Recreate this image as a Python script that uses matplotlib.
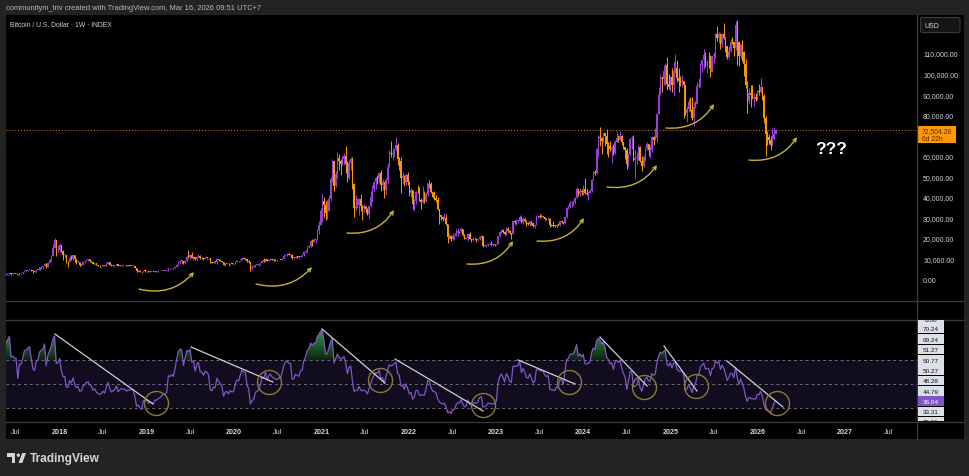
import numpy as np
import pandas as pd
import matplotlib
matplotlib.use("Agg")
import matplotlib.pyplot as plt
import matplotlib.dates as mdates
from matplotlib.patches import Rectangle, FancyBboxPatch, PathPatch, Polygon, Circle
from matplotlib.lines import Line2D
from matplotlib.path import Path
from matplotlib.transforms import Affine2D
from matplotlib.colors import LinearSegmentedColormap
from datetime import datetime

plt.rcParams['font.family'] = ['Liberation Sans', 'DejaVu Sans']

# ---------------- DATA (weekly BTC/USD, thousands of USD) ----------------
last_week = '2026-03-16'
first_open = 2.05
# weekly closes before the first visible candle (used only for RSI warm-up)
warmup_closes = [0.703, 0.750, 0.735, 0.766, 0.778, 0.790, 0.927, 1.020, 0.900, 0.820,
                 0.922, 0.915, 1.020, 1.000, 1.050, 1.150, 1.270, 1.230, 1.010, 0.960,
                 1.080, 1.190, 1.180, 1.250, 1.350, 1.550, 1.750, 2.050]

closes = [
    # 2017 (from May 22)
    2.19, 2.52, 2.95, 2.50, 2.55, 2.50, 2.50, 1.93, 2.75, 2.75, 3.23, 4.07, 4.08, 4.35, 4.60, 4.20,
    3.70, 3.60, 4.40, 4.60, 5.70, 5.98, 6.15, 7.40, 5.95, 8.00, 9.30, 11.30, 15.30, 19.10, 13.90, 14.20,
    # 2018
    16.5, 13.6, 11.6, 11.8, 8.2, 8.1, 10.4, 9.6, 11.5, 9.6, 8.2, 8.5, 6.8, 7.0, 8.3, 8.8, 9.4, 9.6,
    8.7, 8.5, 7.35, 7.7, 6.75, 6.45, 6.15, 6.35, 6.75, 6.35, 7.4, 8.2, 7.05, 6.3, 6.5, 6.7, 7.3, 6.25,
    6.5, 6.7, 6.6, 6.6, 6.3, 6.45, 6.4, 6.5, 6.4, 5.55, 4.0, 4.1, 3.6, 3.2, 4.0, 3.9, 4.05,
    # 2019
    3.5, 3.55, 3.55, 3.4, 3.65, 3.65, 3.75, 3.8, 3.92, 4.0, 4.0, 4.1, 5.2, 5.15, 5.3, 5.2, 5.8, 6.95,
    8.2, 8.75, 8.7, 7.65, 8.95, 10.9, 10.8, 11.5, 10.3, 10.55, 9.5, 10.8, 11.3, 10.2, 10.1, 9.75, 10.4,
    10.35, 10.0, 8.0, 7.8, 8.3, 8.2, 9.55, 9.2, 8.8, 8.5, 6.9, 7.4, 7.5, 7.1, 7.5, 7.3, 7.35,
    # 2020
    8.2, 8.7, 8.6, 9.35, 10.15, 9.9, 9.95, 8.55, 8.05, 5.4, 5.8, 5.9, 6.8, 6.9, 7.1, 7.7, 8.9, 8.7,
    9.7, 8.7, 9.45, 9.75, 9.35, 9.3, 9.1, 9.07, 9.3, 9.2, 9.95, 11.1, 11.7, 11.9, 11.7, 11.7, 10.25,
    10.3, 10.9, 10.8, 10.7, 11.4, 11.5, 13.0, 13.75, 15.5, 15.95, 18.4, 18.2, 19.15, 19.3, 23.8, 26.3, 33.0,
    # 2021
    38.2, 35.8, 32.3, 33.1, 38.9, 48.6, 57.5, 45.2, 51.2, 59.0, 57.4, 55.8, 58.2, 60.0, 56.2, 49.1,
    56.6, 58.2, 46.4, 34.7, 35.7, 35.8, 39.1, 35.5, 34.7, 35.3, 34.2, 31.8, 35.4, 39.9, 43.8, 47.0,
    49.3, 48.8, 51.8, 46.0, 47.3, 43.2, 48.2, 54.7, 61.5, 60.9, 61.3, 63.3, 65.0, 58.6, 57.3, 49.4,
    50.1, 46.7, 50.8, 47.3,
    # 2022
    41.9, 43.1, 36.3, 37.9, 42.4, 42.2, 38.4, 37.7, 38.4, 37.8, 41.3, 46.8, 46.4, 42.2, 39.7, 39.4,
    38.5, 34.0, 31.3, 30.3, 29.4, 29.9, 26.6, 20.6, 21.0, 19.3, 20.8, 20.8, 22.6, 23.3, 23.2, 24.3,
    21.5, 19.6, 20.0, 21.8, 19.4, 18.8, 19.3, 19.4, 19.2, 19.6, 20.6, 20.9, 16.3, 16.3, 16.5, 17.1,
    17.1, 16.75, 16.85, 16.6,
    # 2023
    17.1, 20.9, 22.7, 23.7, 22.9, 21.8, 24.3, 23.6, 22.4, 22.1, 28.0, 27.9, 28.2, 28.3, 30.3, 27.6,
    29.2, 28.4, 26.9, 26.7, 28.1, 27.1, 25.8, 26.3, 30.5, 30.6, 30.2, 30.2, 30.1, 29.3, 29.0, 29.3,
    26.1, 26.0, 25.9, 25.8, 26.5, 26.3, 28.0, 27.9, 27.1, 30.0, 34.5, 35.0, 37.1, 37.4, 37.5, 39.5,
    43.8, 41.4, 43.0, 42.3,
    # 2024
    43.9, 41.7, 41.6, 42.0, 42.6, 48.3, 52.1, 51.7, 63.1, 69.0, 68.4, 67.2, 71.3, 69.4, 65.7, 64.9,
    63.1, 64.0, 61.5, 66.9, 68.5, 67.8, 69.6, 66.6, 64.3, 62.7, 55.8, 60.8, 68.2, 68.2, 58.1, 58.7,
    59.5, 64.2, 57.3, 54.8, 59.2, 63.6, 65.6, 62.8, 62.9, 69.0, 67.9, 68.8, 80.4, 89.8, 98.0, 97.2,
    101.1, 104.4, 95.1, 93.7, 98.3,
    # 2025
    94.5, 101.3, 102.6, 97.7, 96.5, 96.1, 96.3, 94.3, 80.7, 82.6, 86.1, 82.3, 78.4, 83.7, 85.1, 93.8,
    94.3, 104.1, 106.5, 109.0, 105.0, 105.7, 105.5, 100.9, 108.4, 109.2, 119.1, 117.3, 119.4, 114.2,
    119.3, 117.4, 113.5, 108.2, 111.1, 115.3, 115.2, 112.2, 123.5, 115.2, 108.6, 114.5, 110.6, 104.7,
    94.3, 86.8, 90.4, 89.5, 88.2, 88.5, 87.8, 91.5,
    # 2026
    91.0, 93.5, 89.0, 78.5, 70.5, 68.9, 67.6, 65.0, 68.0, 70.8, 72.504,
]

highs = [
    2.76, 2.56, 2.98, 2.98, 2.78, 2.60, 2.65, 2.53, 2.90, 2.80, 3.29, 4.18, 4.48, 4.40, 4.98, 4.70,
    4.30, 4.10, 4.40, 4.60, 5.85, 6.10, 6.30, 7.60, 7.88, 8.10, 9.60, 11.80, 17.20, 19.80, 19.20, 16.50,
    17.3, 16.3, 14.0, 12.0, 11.8, 8.9, 11.3, 11.8, 11.7, 11.7, 9.9, 9.2, 8.5, 7.5, 8.4, 9.0, 9.7, 9.9,
    9.6, 8.9, 8.5, 7.75, 7.75, 6.9, 6.8, 6.5, 6.8, 6.8, 7.6, 8.5, 8.2, 7.1, 6.6, 6.9, 7.3, 7.4,
    6.6, 6.8, 6.7, 6.65, 6.7, 6.8, 6.5, 6.5, 6.55, 6.45, 5.6, 4.4, 4.2, 3.6, 4.2, 4.25, 4.1,
    4.1, 3.7, 3.65, 3.55, 3.7, 3.7, 4.2, 3.9, 3.95, 4.05, 4.1, 4.15, 5.3, 5.45, 5.35, 5.6, 5.85, 7.5,
    8.35, 8.8, 9.1, 8.8, 9.3, 11.2, 13.9, 12.0, 13.2, 11.0, 10.6, 11.0, 12.3, 11.5, 10.9, 10.6, 10.9,
    10.4, 10.3, 10.0, 8.5, 8.8, 8.4, 10.4, 9.9, 9.5, 8.95, 8.5, 7.8, 7.6, 7.6, 7.5, 7.7, 7.5,
    8.45, 9.2, 8.75, 9.6, 10.2, 10.5, 10.2, 9.95, 9.2, 8.1, 6.9, 6.9, 7.1, 7.45, 7.3, 7.7, 9.45, 10.0,
    9.9, 9.9, 9.7, 10.4, 9.95, 9.6, 9.8, 9.3, 9.45, 9.35, 10.2, 12.1, 11.9, 12.1, 12.5, 11.8, 12.1,
    10.5, 11.1, 10.98, 10.95, 11.45, 11.7, 13.35, 14.1, 15.95, 16.5, 18.8, 19.4, 19.9, 19.4, 24.2, 28.4, 34.8,
    41.9, 40.1, 37.8, 38.5, 41.0, 49.7, 58.4, 57.5, 52.6, 61.8, 61.0, 58.4, 60.1, 61.2, 64.9, 57.5,
    58.0, 59.5, 59.6, 46.6, 40.9, 39.5, 39.6, 41.3, 35.8, 36.6, 35.3, 34.6, 35.4, 42.6, 46.0, 47.9,
    49.5, 50.5, 51.9, 52.9, 48.8, 47.3, 49.2, 56.6, 62.9, 67.0, 63.7, 63.5, 69.0, 66.4, 59.3, 59.2,
    51.9, 50.4, 51.8, 52.0,
    47.6, 44.5, 43.5, 38.9, 42.6, 45.8, 44.6, 39.5, 45.4, 42.6, 42.4, 46.9, 48.2, 47.2, 42.4, 42.9,
    40.7, 40.0, 34.2, 31.4, 30.6, 32.2, 31.6, 26.9, 21.9, 21.5, 22.5, 21.6, 24.3, 24.6, 23.6, 25.2,
    24.4, 21.9, 20.6, 21.9, 22.7, 19.7, 20.4, 20.5, 19.9, 19.7, 21.0, 21.5, 21.0, 17.2, 16.7, 17.2,
    17.4, 18.4, 17.0, 16.9,
    17.2, 21.1, 23.3, 23.8, 24.2, 23.2, 25.2, 25.1, 23.9, 22.6, 28.4, 28.9, 29.2, 28.8, 31.0, 30.5,
    30.0, 29.8, 28.6, 27.6, 28.2, 28.4, 27.4, 26.8, 31.4, 31.0, 31.5, 31.8, 30.4, 29.5, 29.7, 30.2,
    29.7, 26.8, 28.1, 26.4, 26.8, 27.5, 28.0, 28.6, 27.9, 30.3, 35.0, 35.9, 37.9, 37.9, 38.0, 39.8,
    44.7, 44.0, 44.4, 43.8,
    45.9, 49.0, 43.6, 42.6, 43.8, 48.5, 52.8, 52.9, 64.0, 70.1, 73.8, 68.9, 71.7, 71.3, 72.8, 66.8,
    67.0, 64.7, 65.5, 67.7, 71.9, 70.0, 71.9, 70.2, 66.9, 63.4, 63.8, 61.4, 68.4, 69.4, 70.0, 62.7,
    61.8, 65.0, 64.9, 59.8, 60.6, 64.1, 66.5, 65.5, 64.5, 69.4, 69.5, 73.6, 81.0, 93.4, 99.8, 98.9,
    104.0, 105.2, 108.3, 99.9, 98.9,
    102.7, 106.0, 109.6, 106.5, 102.5, 98.8, 99.5, 96.5, 94.4, 84.0, 87.5, 88.8, 88.5, 86.1, 86.5, 95.8,
    97.9, 104.9, 106.7, 111.9, 110.7, 106.8, 110.4, 108.9, 108.5, 110.5, 119.5, 123.2, 120.2, 119.8,
    119.5, 124.5, 117.6, 113.6, 113.4, 116.8, 117.9, 115.4, 125.7, 126.2, 115.9, 114.6, 116.4, 110.9,
    107.3, 96.6, 93.1, 94.2, 94.6, 90.5, 90.6, 91.8,
    94.8, 97.9, 93.5, 90.0, 79.5, 72.0, 70.5, 69.5, 73.5, 73.8, 73.0,
]

lows = [
    1.85, 2.10, 2.50, 2.10, 2.40, 2.30, 2.45, 1.84, 1.90, 2.45, 2.65, 3.20, 3.95, 3.90, 4.30, 3.95,
    2.97, 3.50, 3.60, 4.20, 4.60, 5.10, 5.40, 6.10, 5.60, 5.90, 8.00, 9.00, 11.50, 15.20, 11.00, 12.50,
    13.0, 13.1, 9.2, 10.0, 7.9, 6.0, 8.1, 9.3, 9.4, 8.4, 7.3, 8.2, 6.5, 6.5, 6.6, 7.9, 8.7, 9.0,
    8.3, 8.1, 7.2, 7.05, 6.6, 6.3, 5.8, 5.8, 6.3, 6.1, 6.3, 7.4, 6.9, 6.1, 5.9, 6.3, 6.6, 6.2,
    6.2, 6.1, 6.4, 6.45, 6.1, 6.3, 6.35, 6.3, 6.35, 5.35, 3.6, 3.5, 3.3, 3.15, 3.2, 3.6, 3.65,
    3.5, 3.5, 3.5, 3.35, 3.35, 3.55, 3.7, 3.7, 3.7, 3.85, 3.95, 3.9, 4.1, 4.9, 5.0, 5.05, 5.15, 5.7,
    6.9, 7.5, 8.0, 7.5, 7.55, 8.95, 10.3, 9.6, 10.2, 9.1, 9.1, 9.4, 11.0, 9.5, 9.9, 9.4, 9.75,
    9.9, 9.6, 7.7, 7.7, 7.8, 7.85, 7.3, 9.0, 8.7, 8.3, 6.8, 6.5, 7.2, 7.0, 6.45, 7.1, 6.9,
    7.35, 8.1, 8.25, 8.6, 9.1, 9.7, 9.3, 8.4, 8.0, 3.8, 4.4, 5.85, 5.85, 6.7, 6.5, 6.75, 7.7, 8.1,
    8.2, 8.7, 8.65, 9.3, 9.2, 8.9, 8.9, 8.9, 9.1, 9.05, 9.1, 9.9, 11.0, 11.2, 11.5, 11.1, 9.9,
    9.85, 10.25, 10.1, 10.4, 10.5, 11.2, 11.4, 12.9, 13.3, 15.0, 15.8, 16.2, 18.0, 17.6, 19.0, 21.9, 26.1,
    27.7, 30.4, 28.9, 29.2, 33.4, 38.0, 47.1, 43.0, 45.0, 49.2, 53.3, 50.4, 55.3, 55.5, 51.5, 47.0,
    48.8, 53.0, 43.8, 30.0, 33.4, 34.8, 31.0, 33.3, 28.8, 32.7, 32.1, 31.0, 29.3, 35.2, 37.4, 42.8,
    43.9, 46.4, 46.5, 42.8, 43.4, 39.6, 40.8, 46.9, 54.4, 59.5, 58.0, 59.5, 62.3, 55.6, 53.3, 42.0,
    46.9, 45.5, 45.6, 45.7,
    40.5, 39.7, 34.0, 32.9, 36.3, 41.7, 38.0, 34.3, 37.2, 37.2, 37.6, 40.5, 44.2, 41.9, 39.2, 38.6,
    37.6, 33.7, 26.7, 28.6, 28.0, 29.3, 26.5, 17.6, 19.6, 18.6, 19.0, 18.9, 20.7, 20.8, 22.4, 22.7,
    20.8, 19.5, 19.5, 18.6, 19.3, 18.1, 18.5, 19.1, 18.2, 18.7, 19.2, 20.1, 15.6, 16.0, 15.5, 16.0,
    16.7, 16.5, 16.3, 16.3,
    16.5, 17.1, 20.4, 22.3, 22.6, 21.4, 21.4, 22.9, 22.0, 19.6, 21.9, 26.6, 26.5, 27.2, 28.2, 27.1,
    26.9, 27.7, 25.8, 26.2, 25.9, 26.5, 25.4, 24.8, 26.2, 29.9, 29.7, 29.9, 29.5, 28.9, 28.6, 28.7,
    25.2, 25.8, 25.4, 25.4, 24.9, 26.0, 26.0, 27.2, 26.6, 26.9, 29.9, 33.9, 34.5, 34.9, 35.6, 36.7,
    39.5, 40.2, 40.5, 41.0,
    40.8, 41.5, 40.7, 38.5, 41.8, 42.5, 48.2, 50.6, 51.0, 59.2, 64.6, 60.8, 66.6, 64.5, 60.9, 59.6,
    62.4, 56.6, 60.2, 60.7, 66.6, 66.7, 67.6, 65.1, 63.4, 58.4, 53.5, 54.3, 60.6, 63.4, 57.2, 49.0,
    56.1, 57.8, 57.1, 52.5, 54.6, 57.5, 62.7, 59.8, 58.9, 62.0, 65.1, 67.5, 66.8, 80.2, 89.4, 90.8,
    94.5, 94.2, 92.1, 92.5, 91.5,
    91.2, 89.3, 100.1, 96.0, 91.2, 94.1, 93.4, 78.2, 80.0, 76.6, 81.2, 81.6, 77.2, 74.4, 83.1, 85.1,
    92.8, 93.4, 101.0, 102.1, 103.1, 100.4, 102.7, 98.2, 100.9, 105.1, 107.5, 115.7, 114.7, 111.9,
    112.7, 116.8, 110.6, 107.3, 107.3, 110.6, 114.4, 108.6, 111.5, 104.0, 103.5, 106.9, 106.3, 98.9,
    93.0, 80.6, 85.3, 83.8, 87.6, 84.4, 86.5, 86.9,
    89.5, 90.5, 87.0, 76.0, 60.0, 65.0, 65.5, 62.8, 64.5, 67.5, 71.0,
]

# 70,000.00 is hidden behind the last-price label in the reference
price_ticks = [0, 10, 20, 30, 40, 50, 60, 80, 90, 100, 110]
last_price_text = "72,504.26"
countdown_text = "6d 22h"
rsi_axis_labels = ['0.00', '70.24', '69.24', '51.27', '50.77', '50.27', '48.28', '44.79', '36.04', '33.31', '29.81']
rsi_levels = [70, 50, 30]
rsi_length = 14

# annotations (fractional year, value)
price_arrows = [((2018.910, -4.9), (2019.540, 3.4)), ((2020.250, -2.4), (2020.891, 5.8)),
                ((2021.292, 22.4), (2021.830, 33.6)), ((2022.667, 7.3), (2023.194, 18.5)),
                ((2023.469, 18.5), (2024.007, 29.7)), ((2024.270, 44.8), (2024.843, 55.5)),
                ((2024.946, 73.5), (2025.496, 85.2)), ((2025.897, 57.9), (2026.447, 69.1))]
question_pos = (2026.836, 63.7)
rsi_trendlines = [((2017.947, 91.9), (2019.070, 33.6)), ((2019.505, 81.1), (2020.444, 51.9)),
                  ((2021.006, 96.1), (2021.727, 51.1)), ((2021.842, 71.1), (2022.850, 27.8)),
                  ((2023.251, 70.3), (2023.904, 50.3)), ((2024.190, 89.4), (2024.729, 48.6)),
                  ((2024.923, 81.9), (2025.301, 44.4)), ((2025.645, 69.4), (2026.286, 31.1))]
rsi_circles = [(2019.104, 34.4), (2020.399, 51.9), (2021.670, 53.6), (2022.850, 32.8),
               (2023.835, 51.9), (2024.694, 47.8), (2025.290, 48.6), (2026.218, 34.4)]

# ---------------- FIGURE ----------------
W, H = 970, 477
fig = plt.figure(figsize=(W / 100, H / 100), dpi=100, facecolor='#232323')
pix = Affine2D().scale(1 / W, -1 / H).translate(0, 1) + fig.transFigure


def fb(x0, y0, x1, y1):
    return [x0 / W, 1 - y1 / H, (x1 - x0) / W, (y1 - y0) / H]


fig.add_artist(Rectangle((6, 16), 958, 424, transform=pix, facecolor='black', edgecolor='none', zorder=0))

UP = '#9a3fdc'
DN = '#ff9800'
TXT = '#d1d4dc'

ax_p = fig.add_axes(fb(6, 16, 917, 302))
ax_r = fig.add_axes(fb(6, 321, 917, 423), sharex=ax_p)
for ax in (ax_p, ax_r):
    ax.set_facecolor('none')
    for s in ax.spines.values():
        s.set_visible(False)

base = mdates.date2num(datetime(2026, 1, 1))
px_per_year = 87.3


def yr(v):
    return base + (v - 2026.0) * 365.25


x_left = base + (6 - 758) / px_per_year * 365.25
x_right = base + (917 - 758) / px_per_year * 365.25

# ---------------- CANDLES ----------------
c = np.array(closes)
hi = np.array(highs)
lo = np.array(lows)
o = np.concatenate([[first_open], c[:-1]])
dates = pd.date_range(end=last_week, periods=len(c), freq='W-MON')
dn = mdates.date2num(dates)
up = c >= o
cols = np.where(up, UP, DN)
wick_top = np.maximum(hi, np.maximum(o, c))
wick_bot = np.minimum(lo, np.minimum(o, c))
ax_p.vlines(dn, wick_bot, wick_top, colors=cols, lw=0.7, zorder=3)
body_h = np.maximum(np.abs(c - o), 0.35)
ax_p.bar(dn, body_h, bottom=np.minimum(o, c), width=5.6, color=cols, linewidth=0, zorder=4)

ax_p.axhline(c[-1], color=DN, lw=0.7, ls=(0, (1, 2)), alpha=0.85, zorder=2)

ax_p.set_ylim(-10.7, 128.5)
ax_p.set_xlim(x_left, x_right)
ax_p.set_yticks(price_ticks)
ax_p.set_yticklabels([f"{v * 1000:,.2f}" for v in price_ticks])
ax_p.tick_params(axis='y', left=False, labelleft=False, right=True, labelright=True,
                 length=0, pad=4.3, labelsize=5.0, labelcolor=TXT)
ax_p.tick_params(axis='x', bottom=False, labelbottom=False)

# arrows + ???
for (s, e) in price_arrows:
    ax_p.annotate('', xy=(yr(e[0]), e[1]), xytext=(yr(s[0]), s[1]),
                  arrowprops=dict(arrowstyle='->', connectionstyle='arc3,rad=0.3', color='#c4b33a',
                                  lw=1.0, shrinkA=0, shrinkB=0, mutation_scale=6), zorder=5)
ax_p.text(yr(question_pos[0]), question_pos[1], '???', color='white', fontsize=12.5,
          fontweight='bold', ha='center', va='center', zorder=6)

# last price label (two lines in one text)
ytr = ax_p.get_yaxis_transform()
ax_p.add_patch(Rectangle((1.0011, 66.42), 0.0417, 8.03, transform=ytr, facecolor=DN,
                         edgecolor='none', clip_on=False, zorder=6))
ax_p.text(1.0055, 70.33, last_price_text + "\n" + countdown_text, transform=ytr, fontsize=4.9,
          color='#4a2e00', va='center', ha='left', linespacing=1.1, clip_on=False, zorder=7)

# ---------------- RSI ----------------
allc = np.concatenate([warmup_closes, c])
delta = np.diff(allc, prepend=np.nan)
gain = np.where(delta > 0, delta, 0.0)
loss = np.where(delta < 0, -delta, 0.0)


def rma(x, n):
    out = np.full(len(x), np.nan)
    out[n] = np.mean(x[1:n + 1])
    for i in range(n + 1, len(x)):
        out[i] = (out[i - 1] * (n - 1) + x[i]) / n
    return out


ag = rma(gain, rsi_length)
al = rma(loss, rsi_length)
rsi = 100 - 100 / (1 + ag / al)
rdates = mdates.date2num(pd.date_range(end=last_week, periods=len(allc), freq='W-MON'))
valid = ~np.isnan(rsi)
rx = rdates[valid]
ry = rsi[valid]

ax_r.axhspan(30, 70, color='#120c1f', zorder=0, lw=0)
for lv in rsi_levels:
    ax_r.axhline(lv, color='#6a6b78', lw=0.7, ls=(0, (3, 3)), zorder=1)


def grad_fill(ax, x, y, level, far, c_near, c_far, above=True):
    where = (y > level) if above else (y < level)
    coll = ax.fill_between(x, y, level, where=where, interpolate=True,
                           facecolor='none', edgecolor='none')
    paths = coll.get_paths()
    if not paths:
        return
    cp = Path.make_compound_path(*paths)
    patch = PathPatch(cp, transform=ax.transData, facecolor='none', edgecolor='none')
    ax.add_patch(patch)
    grad = np.linspace(0, 1, 256).reshape(-1, 1)
    if above:
        cmap = LinearSegmentedColormap.from_list('g', [c_near, c_far])
        ext = [x[0], x[-1], level, far]
    else:
        cmap = LinearSegmentedColormap.from_list('r', [c_far, c_near])
        ext = [x[0], x[-1], far, level]
    im = ax.imshow(grad, extent=ext, origin='lower', aspect='auto', cmap=cmap,
                   zorder=2, interpolation='bilinear')
    im.set_clip_path(patch)


grad_fill(ax_r, rx, ry, 70, 98, '#0a2410', '#3aa853', above=True)
grad_fill(ax_r, rx, ry, 30, 15, '#2a0808', '#b02424', above=False)
ax_r.plot(rx, ry, color='#7e57c2', lw=0.9, zorder=3)

for (s, e) in rsi_trendlines:
    ax_r.plot([yr(s[0]), yr(e[0])], [s[1], e[1]], color='#cfcfcf', lw=0.9, zorder=4)
ax_r.plot([yr(p[0]) for p in rsi_circles], [p[1] for p in rsi_circles], 'o', ms=17.3,
          mfc='none', mec='#8b7a35', mew=1.0, zorder=5)

ax_r.set_xlim(x_left, x_right)
ax_r.set_ylim(18.6, 103.6)
ax_r.tick_params(axis='y', left=False, labelleft=False, right=False, labelright=False)

tick_pos, tick_lab = [], []
for y_ in range(2017, 2028):
    if y_ > 2017:
        tick_pos.append(mdates.date2num(datetime(y_, 1, 1)))
        tick_lab.append(str(y_))
    tick_pos.append(mdates.date2num(datetime(y_, 7, 1)))
    tick_lab.append('Jul')
ax_r.set_xticks(tick_pos)
ax_r.set_xticklabels(tick_lab)
ax_r.tick_params(axis='x', length=0, pad=4.0, labelsize=5.2, labelcolor=TXT)
for t in ax_r.get_xticklabels():
    if t.get_text() != 'Jul':
        t.set_fontweight('bold')
ax_p.tick_params(axis='x', bottom=False, labelbottom=False)

# ---------------- FRAME / DECORATIONS ----------------
for yy in (302, 321, 423):
    fig.add_artist(Line2D([6, 964], [yy, yy], transform=pix, color='#383838', lw=1.0, zorder=8))
fig.add_artist(Line2D([917, 917], [16, 440], transform=pix, color='#383838', lw=1.0, zorder=8))

fig.text(6, 8, "communitym_triv created with TradingView.com, Mar 16, 2026 09:51 UTC+7",
         transform=pix, color='#b8b8b8', fontsize=5.4, va='center', ha='left')
fig.text(10, 25.5, "Bitcoin / U.S. Dollar · 1W · INDEX", transform=pix, color=TXT,
         fontsize=4.9, va='center', ha='left')

fig.add_artist(FancyBboxPatch((920.5, 18.5), 39.5, 15, boxstyle='round,pad=0,rounding_size=2',
                              transform=pix, facecolor='#151515', edgecolor='#3c3c3c', lw=0.8, zorder=9))
fig.text(925, 26, "USD", transform=pix, color=TXT, fontsize=5.0, va='center', ha='left', zorder=10)

# RSI right labels stacked
centers = [320.6, 330.0, 340.4, 350.8, 361.1, 371.4, 381.8, 392.1, 402.4, 412.7, 423.0]
for lab, cy in zip(rsi_axis_labels, centers):
    top = max(cy - 5.0, 321.0)
    bot = min(cy + 5.0, 423.0)
    fc = '#7e57c2' if lab == '36.04' else '#dcdfe6'
    tc = 'white' if lab == '36.04' else '#131722'
    rect = Rectangle((918, top), 26, bot - top - 0.6, transform=pix, facecolor=fc,
                     edgecolor='none', zorder=9)
    fig.add_artist(rect)
    t = fig.text(931, cy, lab, transform=pix, color=tc, fontsize=4.6, va='center', ha='center', zorder=10)
    t.set_clip_path(rect)

# TradingView logo
logo_c = '#d1d4dc'
fig.add_artist(Polygon([(7, 454), (15.5, 454), (15.5, 464), (11.8, 464), (11.8, 457.6), (7, 457.6)],
                       closed=True, transform=pix, facecolor=logo_c, edgecolor='none'))
fig.add_artist(Circle((18.3, 456.2), 1.7, transform=pix, facecolor=logo_c, edgecolor='none'))
fig.add_artist(Polygon([(18.5, 464), (22.3, 464), (26, 454), (22.2, 454)], closed=True,
                       transform=pix, facecolor=logo_c, edgecolor='none'))
fig.text(29.5, 459, "TradingView", transform=pix, color=logo_c, fontsize=8.6, fontweight='bold',
         va='center', ha='left')

fig.savefig('out.png', dpi=100, facecolor=fig.get_facecolor())
